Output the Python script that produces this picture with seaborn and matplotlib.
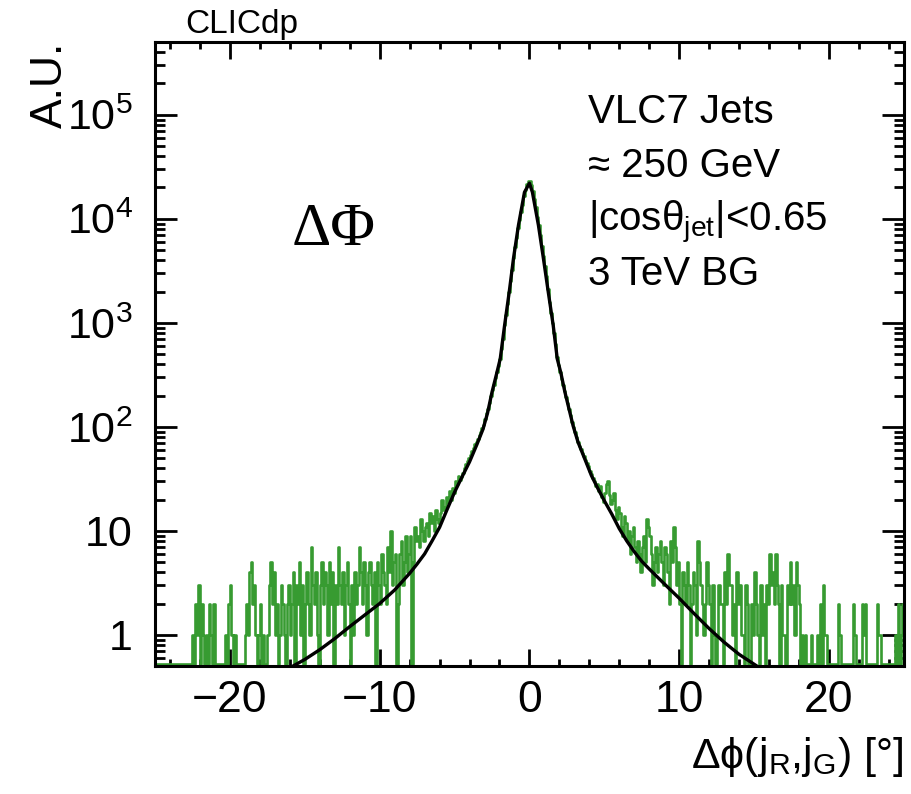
import numpy as np
import pandas as pd
import matplotlib
matplotlib.use("Agg")
import matplotlib.pyplot as plt
import matplotlib.ticker as mticker
import seaborn as sns

# histogram: 500 bins of 0.1 deg from -25 to 25 (heights)
bin_lo = -25.0
bin_w = 0.1
counts = (
    [0] * 24 +                                                              # -25.0 .. -22.6
    [0, 1, 0, 2, 1, 3, 0, 2, 1, 0, 1, 0, 2, 1, 0, 2, 0, 0, 0, 0] +          # -22.6 .. -20.6
    [0, 0, 0, 1, 0, 2, 3, 1, 0, 1, 0, 0, 0, 0, 0, 0, 1, 2, 1, 4] +          # -20.6 .. -18.6
    [5, 2, 3, 1, 0, 1, 2, 0, 1, 0, 0, 1, 3, 5, 2, 4, 1, 2, 0, 1] +          # -18.6 .. -16.6
    [3, 2, 1, 0, 2, 3, 1, 2, 4, 0, 3, 2, 5, 1, 3, 0, 2, 4, 2, 1] +          # -16.6 .. -14.6
    [7, 3, 2, 4, 1, 0, 3, 5, 2, 4, 3, 1, 5, 2, 4, 0, 3, 2, 7, 3] +          # -14.6 .. -12.6
    [2, 4, 1, 3, 5, 2, 0, 3, 1, 4, 2, 3, 7, 4, 2, 5, 3, 1, 4, 5] +          # -12.6 .. -10.6
    [3, 2, 4, 0, 5, 3, 2, 6, 4, 3, 2, 7, 4, 10, 3, 5, 6, 0, 2, 6] +         # -10.6 .. -8.6
    [8, 3, 5, 9, 4, 6, 9, 0, 5, 11, 8, 9, 7, 13, 10, 8, 11, 12, 9, 15] +    # -8.6 .. -6.6
    [12, 14, 10, 16, 13, 12, 15, 20, 16, 17,
     21, 19, 24, 20, 26, 23, 30, 28, 34, 31] +                              # -6.6 .. -4.6
    [33, 36, 40, 44, 47, 50, 54, 58, 63, 69,
     72, 77, 83, 90, 97, 105, 120, 135, 150, 170] +                         # -4.6 .. -2.6
    [200, 225, 255, 295, 335, 385, 450, 560, 700, 950,
     1200, 1500, 1970, 2500, 3200, 4200, 5300, 6600, 8200, 9800] +          # -2.6 .. -0.6
    [11500, 13500, 16500, 19000, 21500, 23000, 23000, 21000, 18500, 15500,
     13000, 10500, 8700, 7000, 5500, 4400, 3500, 2800, 2100, 1600] +        # -0.6 .. 1.4
    [1250, 1000, 800, 620, 470, 390, 340, 290, 250, 220,
     195, 170, 150, 130, 112, 100, 90, 80, 72, 66] +                        # 1.4 .. 3.4
    [61, 56, 52, 48, 45, 42, 38, 35, 32, 30,
     27, 28, 24, 27, 21, 19, 23, 28, 30, 22] +                              # 3.4 .. 5.4
    [18, 20, 23, 16, 13, 17, 15, 11, 9, 14, 12, 8, 10, 6, 9, 11, 7, 5, 8, 6] +  # 5.4 .. 7.4
    [4, 7, 9, 5, 13, 11, 9, 6, 3, 5, 7, 4, 6, 8, 5, 3, 7, 6, 4, 2] +        # 7.4 .. 9.4
    [8, 5, 11, 7, 3, 5, 2, 0, 4, 3, 2, 5, 3, 0, 2, 4, 3, 1, 8, 5] +         # 9.4 .. 11.4
    [3, 2, 1, 2, 5, 3, 2, 0, 3, 1, 0, 1, 3, 2, 2, 0, 4, 2, 6, 3] +          # 11.4 .. 13.4
    [3, 1, 2, 0, 4, 2, 3, 1, 1, 0, 3, 2, 0, 0, 2, 1, 4, 2, 1, 0] +          # 13.4 .. 15.4
    [3, 1, 2, 0, 3, 2, 6, 3, 4, 2, 6, 3, 2, 0, 3, 1, 1, 0, 3, 2] +          # 15.4 .. 17.4
    [5, 2, 3, 1, 5, 3, 2, 0, 1, 0, 1, 0, 0, 0, 1, 0, 0, 0, 1, 0] +          # 17.4 .. 19.4
    [2, 0, 3, 1, 1, 0, 0, 0, 0, 0, 0, 0, 2, 1, 0, 0, 0, 0, 0, 0] +          # 19.4 .. 21.4
    [0, 0, 2, 1, 0, 0, 0, 0, 2, 1, 2, 0, 0, 0, 0, 0, 0, 0, 2, 1] +          # 21.4 .. 23.4
    [1, 0, 0, 0, 0, 0, 0, 0, 0, 0, 1, 0, 2, 0, 1, 2]                        # 23.4 .. 25.0
)

# fitted function, points
fit_x = [-15.8, -15.0, -14.0, -13.0, -12.0, -11.0, -10.0, -9.0, -8.0, -7.5,
         -7.0, -6.5, -6.0, -5.5, -5.0, -4.5, -4.0, -3.5, -3.1, -2.8,
         -2.5, -2.2, -1.95, -1.66, -1.35, -1.06, -0.73, -0.33, 0.0, 0.2,
         0.6, 0.93, 1.26, 1.59, 1.86, 2.1, 2.37, 2.59, 2.92, 3.25,
         3.7, 4.14, 4.58, 5.0, 5.5, 6.0, 6.5, 7.0, 7.5, 8.0,
         9.0, 10.0, 11.0, 12.0, 13.0, 14.0, 15.2]
fit_y = [0.5, 0.58, 0.72, 0.92, 1.2, 1.55, 2.0, 2.7, 3.9, 4.8,
         6.0, 8.0, 10.8, 16.0, 23.5, 33, 46, 68, 95, 135,
         215, 320, 450, 940, 1970, 4200, 8700, 18000, 22000, 18000,
         8700, 4200, 1970, 942, 450, 330, 216, 160, 102, 71,
         49, 34, 25.4, 19.5, 14.5, 10.5, 8.0, 6.3, 5.1, 4.3,
         3.1, 2.25, 1.6, 1.15, 0.85, 0.65, 0.5]

info_lines = ["VLC7 Jets", "\u2248 250 GeV",
              "|cos\u03b8$_{\\mathregular{jet}}$|<0.65", "3 TeV BG"]

green = "#379b31"

sns.set_style("ticks")
plt.rcParams['font.family'] = ['Liberation Sans', 'DejaVu Sans']
plt.rcParams['mathtext.fontset'] = 'custom'
plt.rcParams['mathtext.rm'] = 'Liberation Sans'
plt.rcParams['mathtext.it'] = 'Liberation Sans:italic'
for key in ['text.color', 'axes.labelcolor', 'xtick.color', 'ytick.color', 'axes.edgecolor']:
    plt.rcParams[key] = 'black'

fig = plt.figure(figsize=(9.12, 7.94), dpi=100)
ax = fig.add_axes([0.170, 0.161, 0.821, 0.786])

edges = [bin_lo + bin_w * i for i in range(len(counts) + 1)]
hist_df = pd.DataFrame({"center": [e + bin_w / 2 for e in edges[:-1]],
                        # empty bins drawn along the bottom edge, like ROOT does
                        "count": np.clip(np.array(counts, dtype=float), 0.52, None)})

sns.histplot(data=hist_df, x="center", weights="count", bins=edges, element="step",
             fill=False, color=green, linewidth=1.9, ax=ax)
sns.lineplot(x=fit_x, y=fit_y, color="black", linewidth=2.4, ax=ax)

ax.set_yscale("log")
ax.set_xlim(-25, 25)
ax.set_ylim(0.5, 5e5)

ax.xaxis.set_major_locator(mticker.MultipleLocator(10))
ax.xaxis.set_minor_locator(mticker.MultipleLocator(2))
ax.yaxis.set_major_locator(mticker.LogLocator(base=10, numticks=10))
ax.yaxis.set_minor_locator(mticker.LogLocator(base=10, subs=np.arange(2, 10), numticks=20))
ax.yaxis.set_minor_formatter(mticker.NullFormatter())


def yfmt(v, pos):
    if v < 0.9:
        return ""
    if abs(v - 1) < 1e-6:
        return "1"
    if abs(v - 10) < 1e-6:
        return "10"
    return r"$\mathregular{10^{%d}}$" % round(np.log10(v))


ax.yaxis.set_major_formatter(mticker.FuncFormatter(yfmt))

ax.tick_params(which="both", direction="in", top=True, right=True, width=2)
ax.tick_params(axis="x", which="major", length=12, labelsize=32, pad=10)
ax.tick_params(axis="x", which="minor", length=5)
ax.tick_params(axis="y", which="major", length=16, labelsize=31, pad=16)
ax.tick_params(axis="y", which="minor", length=7)
for s in ax.spines.values():
    s.set_linewidth(2.2)

ax.set_xlabel("\u0394\u03d5(j$_{\\mathregular{R}}$,j$_{\\mathregular{G}}$) [\u00b0]",
              fontsize=31, loc="right")
ax.xaxis.set_label_coords(1.0, -0.11)
ax.set_ylabel("A.U.", fontsize=32, loc="top")
ax.yaxis.set_label_coords(-0.112, 1.0)

ax.text(0.04, 1.014, "CLICdp", transform=ax.transAxes, fontsize=24, va="baseline")
ax.text(0.183, 0.675, "\u0394\u03a6", transform=ax.transAxes, fontsize=44,
        family="Liberation Serif", va="baseline")

for k, line in enumerate(info_lines):
    ax.text(0.578, 0.870 - 0.0865 * k, line, transform=ax.transAxes,
            fontsize=29, va="baseline")

fig.savefig("out.png", dpi=100)
